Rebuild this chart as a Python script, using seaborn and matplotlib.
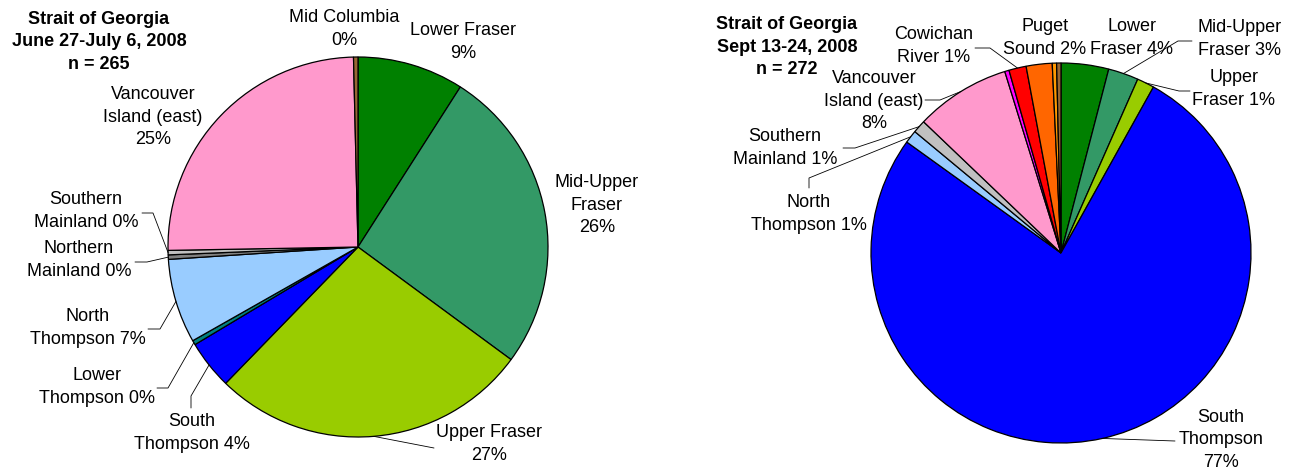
import numpy as np
import matplotlib
matplotlib.use("Agg")
import matplotlib.pyplot as plt
import seaborn as sns

# stock composition, fish counts per region, clockwise from 12 o'clock
june_regions = ["Lower Fraser", "Mid-Upper Fraser", "Upper Fraser", "South Thompson",
                "Lower Thompson", "North Thompson", "Northern Mainland",
                "Southern Mainland", "Vancouver Island (east)", "Mid Columbia"]
june_counts = [24, 69, 72, 11, 1, 19, 1, 1, 66, 1]
june_colors = ["#008000", "#339966", "#99CC00", "#0000FF", "#008080", "#99CCFF",
               "#808080", "#C0C0C0", "#FF99CC", "#996633"]

sept_regions = ["Lower Fraser", "Mid-Upper Fraser", "Upper Fraser", "South Thompson",
                "North Thompson", "Southern Mainland", "Vancouver Island (east)",
                "Other", "Cowichan River", "Puget Sound", "Other 2", "Mid Columbia"]
sept_counts = [11, 7, 4, 209, 3, 3, 22, 1, 4, 6, 1, 1]
sept_colors = ["#008000", "#339966", "#99CC00", "#0000FF", "#99CCFF", "#C0C0C0",
               "#FF99CC", "#FF00FF", "#FF0000", "#FF6600", "#FF9900", "#996633"]

june_title = "Strait of Georgia\nJune 27-July 6, 2008\nn = 265"
sept_title = "Strait of Georgia\nSept 13-24, 2008\nn = 272"

sns.set_theme(style="white")
plt.rcParams["font.family"] = ["Liberation Sans", "DejaVu Sans"]

W, H = 1289, 472
LS = 1.42
fig = plt.figure(figsize=(W / 100, H / 100), dpi=100)
ax = fig.add_axes([0, 0, 1, 1])


def px(x, y):
    # pixel position (y down) to data position
    return x, H - y


def draw_pie(counts, colors, cx, cy, r):
    wedges, _ = ax.pie(counts, colors=colors, startangle=90, counterclock=False,
                       center=px(cx, cy), radius=r,
                       wedgeprops=dict(edgecolor="black", linewidth=0.9))
    return wedges


def anchor(w):
    # point on the rim at the middle of a wedge
    a = np.deg2rad((w.theta1 + w.theta2) / 2)
    return w.center[0] + w.r * np.cos(a), w.center[1] + w.r * np.sin(a)


def label(text, x, y, wedge=None, elbow=None):
    ax.text(*px(x, y), text, ha="center", va="center", fontsize=13,
            color="black", multialignment="center", linespacing=LS)
    if wedge is not None:
        pts = [px(*p) for p in elbow] + [anchor(wedge)]
        ax.plot([p[0] for p in pts], [p[1] for p in pts], color="black", lw=0.6)


def pct(counts, i):
    return f"{round(100 * counts[i] / sum(counts))}%"


# left pie
wl = draw_pie(june_counts, june_colors, 358, 247, 190)
c = june_counts
ax.text(*px(99, 42), june_title, ha="center", va="center", fontsize=13,
        fontweight="bold", color="black", multialignment="center", linespacing=LS)
label("Mid Columbia\n" + pct(c, 9), 344, 29)
label("Lower Fraser\n" + pct(c, 0), 463, 42)
label("Mid-Upper\nFraser\n" + pct(c, 1), 597, 205)
label("Upper Fraser\n" + pct(c, 2), 489, 444, wl[2], [(434, 448)])
label("South\nThompson " + pct(c, 3), 192, 433, wl[3], [(191, 408), (191, 396)])
label("Lower\nThompson " + pct(c, 4), 97, 387, wl[4], [(157, 388), (168, 388)])
label("North\nThompson " + pct(c, 5), 88, 328, wl[5], [(148, 329), (160, 329)])
label("Northern\nMainland " + pct(c, 6), 79, 260, wl[6], [(135, 262), (147, 262)])
label("Southern\nMainland " + pct(c, 7), 86, 211, wl[7], [(142, 213), (153, 213)])
label("Vancouver\nIsland (east)\n" + pct(c, 8), 153, 117)

# right pie
wr = draw_pie(sept_counts, sept_colors, 1061, 253, 190)
c = sept_counts
ax.text(*px(787, 47), sept_title, ha="center", va="center", fontsize=13,
        fontweight="bold", color="black", multialignment="center", linespacing=LS)
label("Cowichan\nRiver " + pct(c, 8), 934, 46, wr[8], [(975, 48), (990, 48)])
label("Puget\nSound " + pct(c, 9), 1045, 38)
label("Lower\nFraser " + pct(c, 0), 1132, 38)
label("Mid-Upper\nFraser " + pct(c, 1), 1240, 39, wr[1], [(1192, 41), (1178, 41)])
label("Upper\nFraser " + pct(c, 2), 1234, 89, wr[2], [(1190, 91), (1179, 91)])
label("Vancouver\nIsland (east)\n" + pct(c, 6), 874, 101, wr[6], [(925, 100), (940, 100)])
label("Southern\nMainland " + pct(c, 5), 785, 148, wr[5], [(843, 148), (855, 148)])
label("North\nThompson " + pct(c, 4), 809, 214, wr[4], [(809, 188), (809, 178)])
label("South\nThompson\n" + pct(c, 3), 1221, 440, wr[3], [(1175, 441)])

ax.set_xlim(0, W)
ax.set_ylim(0, H)
ax.set_aspect("equal")
ax.axis("off")

fig.savefig("out.png", dpi=100)
